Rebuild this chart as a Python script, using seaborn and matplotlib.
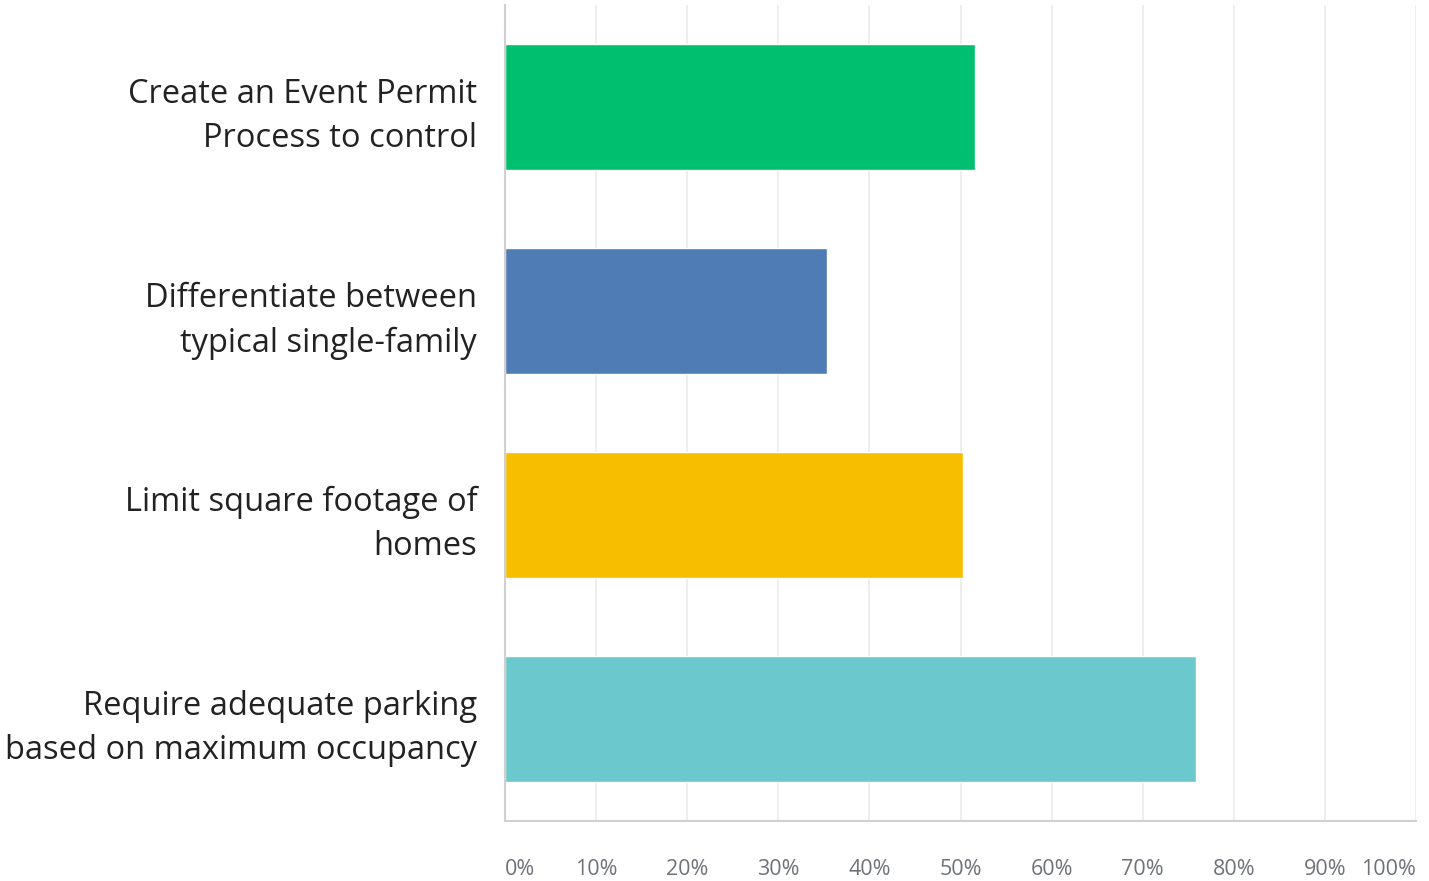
import matplotlib.pyplot as plt
import seaborn as sns
import pandas as pd
from matplotlib.ticker import PercentFormatter

sns.set_style("white")
plt.rcParams['font.family'] = ['Open Sans', 'DejaVu Sans']

options = ['Create an Event Permit\nProcess to control',
           'Differentiate between\ntypical single-family',
           'Limit square footage of\nhomes',
           'Require adequate parking\nbased on maximum occupancy']
share = [51.6, 35.3, 50.3, 75.9]
colors = ['#00BF6F', '#507CB6', '#F7BE00', '#6BC8CD']

df = pd.DataFrame({'option': options, 'share': share})

fig = plt.figure(figsize=(14.29, 8.81), dpi=100)
ax = fig.add_axes([0.3534, 0.068, 0.6375, 0.9262])
sns.barplot(data=df, x='share', y='option', hue='option', palette=colors,
            legend=False, width=0.62, ax=ax, saturation=1)

ax.set_xlim(0, 100)
ax.set_ylim(3.5, -0.5)
ax.set_xticks(range(0, 101, 10))
ax.xaxis.set_major_formatter(PercentFormatter(decimals=0))
ax.grid(axis='x', color='#EBEBEB', linewidth=1.2)
ax.set_axisbelow(True)
ax.set_xlabel('')
ax.set_ylabel('')

for s in ['top', 'right']:
    ax.spines[s].set_visible(False)
for s in ['left', 'bottom']:
    ax.spines[s].set_color('#D0D0D0')
    ax.spines[s].set_linewidth(1.5)

ax.tick_params(axis='x', length=0, pad=27, labelsize=15.5, labelcolor='#6F7378')
ax.tick_params(axis='y', length=0, pad=20, labelsize=23.5, labelcolor='#222222')
xl = ax.get_xticklabels()
xl[0].set_horizontalalignment('left')
xl[-1].set_horizontalalignment('right')
for t in ax.get_yticklabels():
    t.set_multialignment('right')
    t.set_linespacing(1.45)

fig.savefig('out.png', dpi=100)
